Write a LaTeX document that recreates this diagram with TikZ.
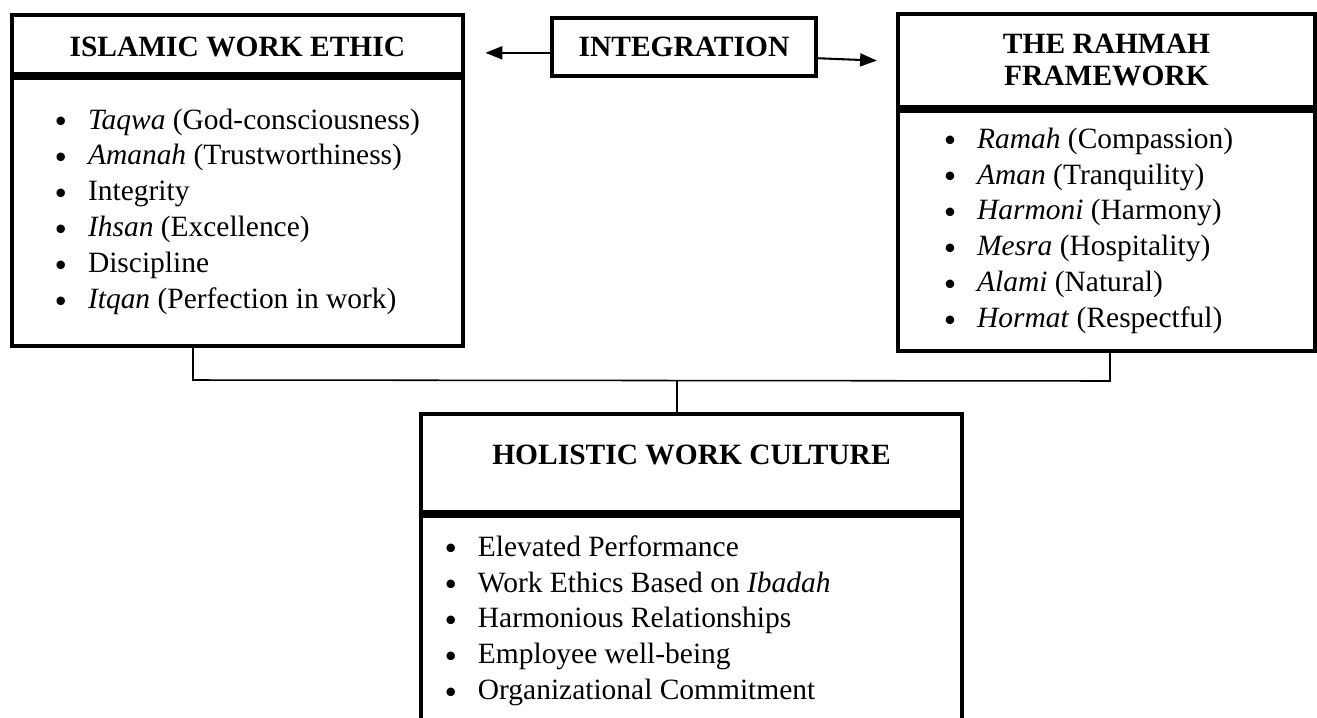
\documentclass[tikz,border=0pt]{standalone}
\usepackage{fontspec}
\setmainfont{Liberation Serif}
\usepackage{tikz}
\usetikzlibrary{arrows.meta, positioning}

\newcommand{\bul}[1]{\makebox[12.6pt][l]{\raisebox{0.9pt}{\fontsize{8.5}{8.5}\selectfont$\bullet$}}#1}

\begin{document}
\begin{tikzpicture}[
    x=0.387pt, y=-0.387pt,
    headbox/.style={rectangle, draw, line width=1.5pt, anchor=north west, inner sep=0pt, align=center, font=\fontsize{11.4}{12.4}\selectfont\bfseries},
    listbox/.style={rectangle, draw, line width=1.5pt, anchor=north west, inner sep=0pt},
    itemlist/.style={anchor=west, inner sep=0pt, align=left, font=\fontsize{11.4}{13.9}\selectfont},
    arrow/.style={-{Triangle[length=6.5pt, width=5pt]}, line width=0.8pt},
    link/.style={line width=0.6pt}
]
\useasboundingbox (0,0) rectangle (1317,717);

% Left column: Islamic work ethic
\node[headbox, minimum width=174.5pt, minimum height=22.8pt, text height=9.5pt] (islamHead) at (10,13) {ISLAMIC WORK ETHIC};
\node[listbox, minimum width=174.5pt, minimum height=103.7pt] (islamBody) at (islamHead.south west) {};
\node[itemlist] (islamList) at ([xshift=17.4pt]islamBody.west)
  {\bul{\textit{Taqwa} (God-consciousness)}\\
   \bul{\textit{Amanah} (Trustworthiness)}\\
   \bul{Integrity}\\
   \bul{\textit{Ihsan} (Excellence)}\\
   \bul{Discipline}\\
   \bul{\textit{Itqan} (Perfection in work)}};

% Middle: integration
\node[headbox, minimum width=102.2pt, minimum height=22.4pt] (integ) at (550,16) {INTEGRATION};

% Right column: Rahmah framework
\node[headbox, minimum width=161.4pt, minimum height=36pt] (rahmahHead) at (896,12) {THE RAHMAH\\FRAMEWORK};
\node[listbox, minimum width=161.4pt, minimum height=92.9pt] (rahmahBody) at (rahmahHead.south west) {};
\node[itemlist] (rahmahList) at ([xshift=18.6pt]rahmahBody.west)
  {\bul{\textit{Ramah} (Compassion)}\\
   \bul{\textit{Aman} (Tranquility)}\\
   \bul{\textit{Harmoni} (Harmony)}\\
   \bul{\textit{Mesra} (Hospitality)}\\
   \bul{\textit{Alami} (Natural)}\\
   \bul{\textit{Hormat} (Respectful)}};

% Bottom: outcome
\node[headbox, minimum width=209.4pt, minimum height=37.9pt, text depth=6pt] (holHead) at (419,412) {HOLISTIC WORK CULTURE};
\node[listbox, minimum width=209.4pt, minimum height=81.3pt] (holBody) at (holHead.south west) {};
\node[itemlist] (holList) at ([xshift=10pt]holBody.west)
  {\bul{Elevated Performance}\\
   \bul{Work Ethics Based on \textit{Ibadah}}\\
   \bul{Harmonious Relationships}\\
   \bul{Employee well-being}\\
   \bul{Organizational Commitment}};

% Arrows out of the integration box
\draw[arrow, shorten >=8pt] ([yshift=-2.3pt]integ.west) -- ([yshift=-2.3pt]integ.west -| islamHead.east);
\draw[arrow, shorten >=7.4pt] ([yshift=-4.4pt]integ.east) -- ([yshift=-5.6pt]integ.east -| rahmahHead.west);

% Joining lines
\coordinate (joinL) at (193,380);
\coordinate (joinR) at (1110,381);
\coordinate (joinM) at (677,380);
\draw[link] (islamBody.south -| joinL) -- (joinL) -- (joinR) -- (rahmahBody.south -| joinR);
\draw[link] (joinM) -- (holHead.north -| joinM);

\end{tikzpicture}
\end{document}
